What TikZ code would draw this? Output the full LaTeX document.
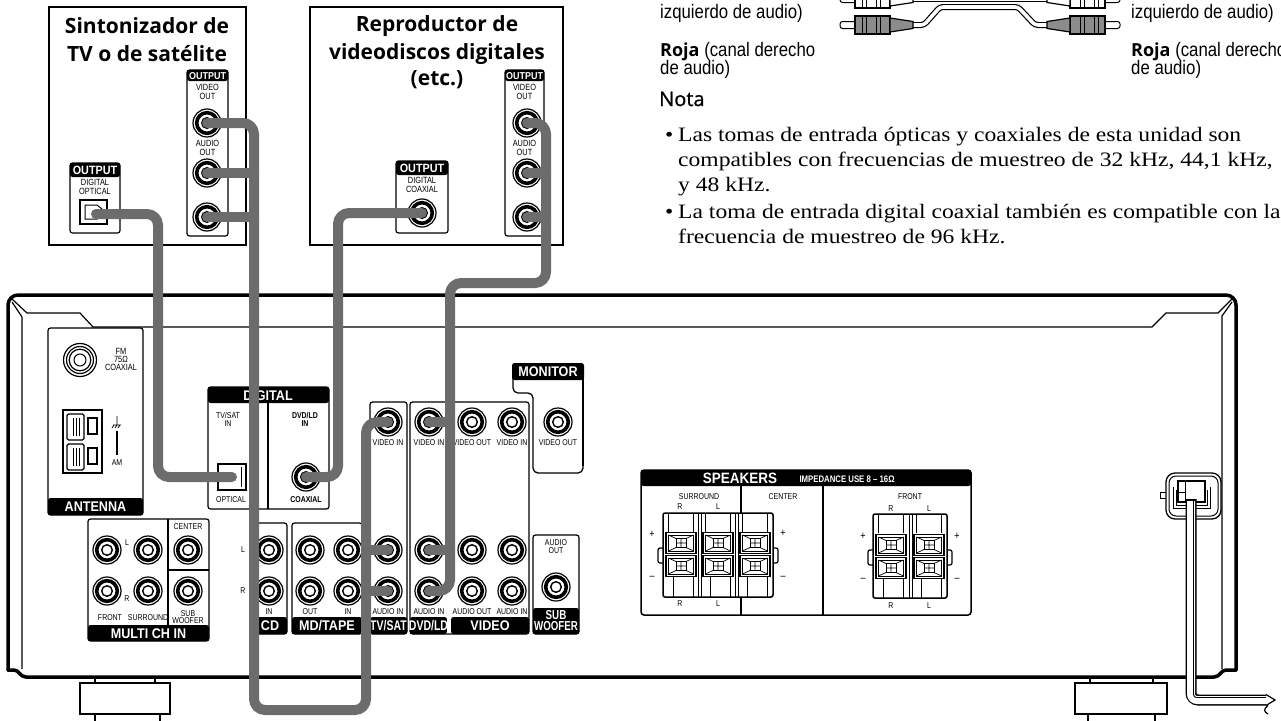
\documentclass[tikz,border=0pt]{standalone}
\usepackage{fontspec}
\setmainfont{Liberation Serif}
\newfontfamily\cf{Liberation Sans}[FakeStretch=0.82]
\newfontfamily\cfb{Liberation Sans}[FakeStretch=0.9]
\newfontfamily\cfn{Liberation Sans}[FakeStretch=0.75]
\newfontfamily\sidef{Liberation Sans}[FakeStretch=0.86]
\newfontfamily\hf{Open Sans}
\newfontfamily\hfm{Open Sans}[FakeBold=0.8]
\newfontfamily\bodyf{Liberation Serif}[FakeStretch=1.15]
\definecolor{cab}{RGB}{108,108,108}
\definecolor{plugg}{RGB}{140,140,140}
\newcommand{\myplugL}[3]{%
  \draw[line width=1pt, fill=white, rounded corners=2.5pt] (#1,#2-3.5) rectangle (#1+18,#2+3.5);
  \draw[line width=1.2pt, fill=#3] (#1+15,#2-9) rectangle (#1+50,#2+9);
  \draw[line width=0.9pt] (#1+22,#2-9) -- (#1+22,#2+9) (#1+26,#2-9) -- (#1+26,#2+9) (#1+36,#2-9) -- (#1+36,#2+9) (#1+40,#2-9) -- (#1+40,#2+9);
  \draw[line width=1.2pt, fill=#3] (#1+50,#2-7) -- (#1+73,#2-3.5) -- (#1+73,#2+3.5) -- (#1+50,#2+7) -- cycle;}
\newcommand{\myplugR}[3]{%
  \draw[line width=1pt, fill=white, rounded corners=2.5pt] (#1-18,#2-3.5) rectangle (#1,#2+3.5);
  \draw[line width=1.2pt, fill=#3] (#1-50,#2-9) rectangle (#1-15,#2+9);
  \draw[line width=0.9pt] (#1-22,#2-9) -- (#1-22,#2+9) (#1-26,#2-9) -- (#1-26,#2+9) (#1-36,#2-9) -- (#1-36,#2+9) (#1-40,#2-9) -- (#1-40,#2+9);
  \draw[line width=1.2pt, fill=#3] (#1-50,#2-7) -- (#1-73,#2-3.5) -- (#1-73,#2+3.5) -- (#1-50,#2+7) -- cycle;}
\tikzset{
  cable/.style={draw=cab, line width=10pt, line cap=round, line join=round, rounded corners=11pt},
  branch/.style={draw=cab, line width=10pt, line cap=round},
  panel/.style={draw=black, line width=1.2pt, rounded corners=2.5pt, fill=white},
  bandf/.style={fill=black, rounded corners=2.5pt},
  tiny/.style={font=\cf\fontsize{8.5}{8}\selectfont, inner sep=0pt, align=center},
  tinyb/.style={font=\cf\bfseries\fontsize{8.5}{8}\selectfont, inner sep=0pt, align=center},
  devlab/.style={font=\cf\fontsize{9}{8.5}\selectfont, inner sep=0pt, align=center},
  bandtext/.style={font=\cfb\bfseries\fontsize{14}{14}\selectfont, text=white, inner sep=0pt},
  bandnar/.style={font=\cfn\bfseries\fontsize{14}{14}\selectfont, text=white, inner sep=0pt},
  title/.style={font=\hf\bfseries\fontsize{21}{21}\selectfont, inner sep=0pt},
  side/.style={font=\sidef\fontsize{19.5}{19.5}\selectfont, inner sep=0pt, anchor=base west},
  body/.style={font=\bodyf\fontsize{20.5}{20.5}\selectfont, inner sep=0pt, anchor=base west},
  pm/.style={font=\cf\fontsize{11}{11}\selectfont, inner sep=0pt},
  pics/rca/.style={code={
    \fill[white] (0,0) circle (14pt);
    \draw[line width=1.2pt] (0,0) circle (14pt);
    \draw[line width=3.6pt] (0,0) circle (10.3pt);
    \draw[line width=1.4pt, fill=white] (0,0) circle (5.3pt);
  }},
  pics/screw/.style={code={
    \draw[line width=1.3pt, fill=white] (-15,-10.5) rectangle (15,10.5);
    \draw[line width=0.7pt] (-12.5,-8) rectangle (12.5,8);
    \draw[line width=0.7pt] (-5,-4.5) rectangle (5,4.5);
    \draw[line width=0.7pt] (-12.5,-8) -- (-5,-4.5) (12.5,-8) -- (5,-4.5) (-12.5,8) -- (-5,4.5) (12.5,8) -- (5,4.5) (0,-4.5) -- (0,4.5) (-5,0) -- (5,0);
  }},
}
\begin{document}
\begin{tikzpicture}[x=1pt,y=-1pt]
\useasboundingbox (0,0) rectangle (1281,720);
\clip (0,0) rectangle (1281,720);
\fill[white] (0,0) rectangle (1281,720);

% ================= top right texts
\node[side] (izq1) at (660,18) {izquierdo de audio)};
\node[side] (roja1) at (660,56) {{\hf\bfseries\fontsize{18}{18}\selectfont Roja} (canal derecho};
\node[side] (deau1) at (660,74.5) {de audio)};
\node[side] (izq2) at (1131,18) {izquierdo de audio)};
\node[side] (roja2) at (1131,56) {{\hf\bfseries\fontsize{18}{18}\selectfont Roja} (canal derecho};
\node[side] (deau2) at (1131,74.5) {de audio)};
\node[anchor=base west, inner sep=0pt, font=\hfm\fontsize{20}{20}\selectfont] (nota) at (659,106) {Nota};
\node[body] (bul1) at (665,141) {•};
\node[body] (l1) at (678,141) {Las tomas de entrada ópticas y coaxiales de esta unidad son};
\node[body] (l2) at (678,166.5) {compatibles con frecuencias de muestreo de 32 kHz, 44,1 kHz,};
\node[body] (l3) at (678,191) {y 48 kHz.};
\node[body] (bul2) at (665,218) {•};
\node[body] (l4) at (678,218) {La toma de entrada digital coaxial también es compatible con la};
\node[body] (l5) at (678,243) {frecuencia de muestreo de 96 kHz.};

% ================= plug cable drawing
\draw[line width=6pt] (913,-1) -- (1047,-1);
\draw[line width=3.6pt, white] (912,-1) -- (1048,-1);
\draw[line width=6pt, rounded corners=3pt] (913,25) -- (924,25) -- (940,7) -- (1018,7) -- (1035,25) -- (1047,25);
\draw[line width=3.6pt, white, rounded corners=3pt] (912,25) -- (924,25) -- (940,7) -- (1018,7) -- (1035,25) -- (1048,25);
\myplugL{840}{-1}{white}
\myplugR{1120}{-1}{white}
\myplugL{840}{25}{plugg}
\myplugR{1120}{25}{plugg}

% ================= device 1
\draw[line width=1.2pt] (49,7) rectangle (246,245);
\node[title] (t1a) at (147,26) {Sintonizador de};
\node[title] (t1b) at (147,54) {TV o de satélite};
\draw[panel] (187,70) rectangle (228,236);
\fill[bandf] (187,70) rectangle (228,81);
\node[font=\cfb\bfseries\fontsize{10}{10}\selectfont, text=white, inner sep=0pt] (o1) at (207.5,75.8) {OUTPUT};
\node[devlab] (v1lab) at (207.5,92) {VIDEO\\OUT};
\node[devlab] (a1lab) at (207.5,148) {AUDIO\\OUT};
\coordinate (d1v) at (207,123);
\coordinate (d1a1) at (207,173);
\coordinate (d1a2) at (207,217);
\foreach \p in {d1v,d1a1,d1a2} \pic at (\p) {rca};
\draw[panel] (70,163) rectangle (120,233);
\fill[bandf] (70,163) rectangle (120,177);
\node[font=\cfb\bfseries\fontsize{12}{12}\selectfont, text=white, inner sep=0pt] (o2) at (95,170.5) {OUTPUT};
\node[devlab] (optlab) at (95,187) {DIGITAL\\OPTICAL};
\draw[line width=1.3pt] (80,200) rectangle (107,224);
\draw[line width=1pt] (85,205) -- (97,205) -- (102,209) -- (102,215) -- (97,219) -- (85,219) -- cycle;
\coordinate (opt) at (96,214);

% ================= device 2
\draw[line width=1.2pt] (310,7) rectangle (563,245);
\node[title] (t2a) at (437,26) {Reproductor de};
\node[title] (t2b) at (437,54) {videodiscos digitales};
\node[title] (t2c) at (437,80) {(etc.)};
\draw[panel] (505,70) rectangle (544,236);
\fill[bandf] (505,70) rectangle (544,81);
\node[font=\cfb\bfseries\fontsize{10}{10}\selectfont, text=white, inner sep=0pt] (o3) at (524.5,75.8) {OUTPUT};
\node[devlab] (v2lab) at (524.5,92) {VIDEO\\OUT};
\node[devlab] (a2lab) at (524.5,148) {AUDIO\\OUT};
\coordinate (d2v) at (527,123);
\coordinate (d2a1) at (527,173);
\coordinate (d2a2) at (527,217);
\foreach \p in {d2v,d2a1,d2a2} \pic at (\p) {rca};
\draw[panel] (396,161) rectangle (448,233);
\fill[bandf] (396,161) rectangle (448,175);
\node[font=\cfb\bfseries\fontsize{12}{12}\selectfont, text=white, inner sep=0pt] (o4) at (422,168.5) {OUTPUT};
\node[devlab] (coaxlab) at (422,185) {DIGITAL\\COAXIAL};
\coordinate (coax) at (422,213);
\pic at (coax) {rca};

% ================= receiver chassis
\draw[line width=3.5pt, rounded corners=10pt, line cap=round] (1236,670) -- (1236,295) -- (8,295) -- (8,670);
\draw[line width=3.5pt, line cap=round] (8,670) -- (14,670) .. controls (19,670) and (20,677) .. (26,677) -- (1214,677) .. controls (1220,677) and (1221,670) .. (1226,670) -- (1236,670);
\draw[line width=1.2pt] (12,299) -- (27,313) -- (80,313) -- (93,327) -- (1152,327) -- (1166,313) -- (1218,313) -- (1232,299);
\draw[line width=1.2pt] (12,302) -- (22,317) -- (22,669);
\draw[line width=1.2pt] (1232,302) -- (1222,316) -- (1222,669);
% feet
\draw[line width=1.2pt] (95,678) rectangle (155,683);
\draw[line width=2pt, fill=white] (80,683) rectangle (170,714);
\draw[line width=2pt, fill=white] (95,714) rectangle (160,722);
\draw[line width=1.2pt] (1090,678) rectangle (1153,683);
\draw[line width=2pt, fill=white] (1075,683) rectangle (1167,714);
\draw[line width=2pt, fill=white] (1088,714) rectangle (1155,722);

% ---- ANTENNA
\draw[panel] (48,328) rectangle (143,515);
\fill[bandf] (48,498) rectangle (143,515);
\node[bandtext] (ant) at (95.5,507) {ANTENNA};
\coordinate (fm) at (80,360);
\draw[line width=1.2pt] (fm) circle (16.5pt);
\draw[line width=1.2pt] (fm) circle (13.5pt);
\draw[line width=1.2pt] (fm) circle (10.8pt);
\draw[line width=1pt] (fm) circle (6pt);
\node[tiny, font=\cf\fontsize{9}{8}\selectfont] (fmlab) at (121,359) {FM\\75Ω\\COAXIAL};
\draw[line width=1.8pt] (63,410) rectangle (102,473);
\draw[line width=1.2pt, rounded corners=1.5pt] (67,414) rectangle (84,440);
\draw[line width=1.2pt, rounded corners=1.5pt] (67,444) rectangle (84,470);
\draw[line width=0.8pt] (73,418) -- (73,436) (76,418) -- (76,436) (79,418) -- (79,436);
\draw[line width=0.8pt] (73,448) -- (73,466) (76,448) -- (76,466) (79,448) -- (79,466);
\draw[line width=1.2pt] (88,418) rectangle (97,434);
\draw[line width=1.2pt] (88,448) rectangle (97,464);
\draw[line width=0.8pt] (117,416) -- (117,425) (113,425) -- (121,425) (114,425) -- (112,428) (117,425) -- (115,428) (120,425) -- (118,428);
\draw[line width=1.2pt] (117,431) -- (117,455);
\node[tiny] (amlab) at (117,463) {AM};

% ---- DIGITAL
\draw[panel] (208,387) rectangle (329,509);
\fill[bandf] (208,387) rectangle (329,403);
\node[bandtext] (dig) at (268,395.5) {DIGITAL};
\draw[line width=1.2pt] (268,403) -- (268,509);
\node[tiny] (tvsatin) at (228,419) {TV/SAT\\IN};
\node[tinyb] (dvdin) at (305,419) {DVD/LD\\IN};
\draw[line width=2.8pt] (218,464) rectangle (246,490);
\draw[line width=1pt] (241,467) -- (241,487);
\coordinate (ropt) at (232,477);
\node[tiny] (optl) at (231,500) {OPTICAL};
\coordinate (rcoax) at (306,477);
\pic at (rcoax) {rca};
\node[tinyb] (coaxl) at (306,500) {COAXIAL};

% ---- MULTI CH IN
\draw[panel] (88,519) rectangle (209,641);
\fill[bandf] (88,625) rectangle (209,641);
\node[bandtext] (mch) at (148.5,633.5) {MULTI CH IN};
\draw[line width=1.2pt] (168,519) -- (168,625);
\draw[line width=1.2pt] (168,570) -- (209,570);
\foreach \x/\y in {107/550,148/550,188/550,107/591,148/591,188/591} \pic at (\x,\y) {rca};
\node[tiny] (mL) at (127,543) {L};
\node[tiny] (mR) at (127,599) {R};
\node[tiny] (mC) at (188,527) {CENTER};
\node[tiny] (mF) at (110,618) {FRONT};
\node[tiny] (mS) at (148,618) {SURROUND};
\node[tiny, font=\cf\fontsize{8.5}{7}\selectfont] (mW) at (188,617) {SUB\\WOOFER};

% ---- CD
\draw[panel] (250,523) rectangle (287,634);
\fill[bandf] (250,617) rectangle (287,634);
\node[bandtext] (cdl) at (270,626) {CD};
\pic at (269,550) {rca};
\pic at (269,591) {rca};
\node[tiny] (cdin) at (269,612) {IN};
\node[tiny] (cdL) at (243,550) {L};
\node[tiny] (cdR) at (243,591) {R};

% ---- MD/TAPE
\draw[panel] (292,523) rectangle (362,634);
\fill[bandf] (292,617) rectangle (362,634);
\node[bandtext] (mdl) at (327,626) {MD/TAPE};
\foreach \x/\y in {310/550,348/550,310/591,348/591} \pic at (\x,\y) {rca};
\node[tiny] (mdo) at (310,612) {OUT};
\node[tiny] (mdi) at (348,612) {IN};

% ---- TV/SAT
\draw[panel] (370,402) rectangle (407,634);
\fill[bandf] (370,617) rectangle (407,634);
\node[bandnar] (tvl) at (388.5,626) {TV/SAT};
\coordinate (rtvV) at (388,422);
\coordinate (rtvL) at (388,550);
\coordinate (rtvR) at (388,591);
\foreach \p in {rtvV,rtvL,rtvR} \pic at (\p) {rca};
\node[tiny] (tvvi) at (388,443) {VIDEO IN};
\node[tiny] (tvai) at (388,612) {AUDIO IN};

% ---- DVD/LD + VIDEO
\draw[panel] (410,402) rectangle (529,634);
\fill[bandf] (410,617) rectangle (447,634);
\fill[white] (447,616) rectangle (451,633);
\fill[bandf] (451,617) rectangle (529,634);
\node[bandnar] (dvdl) at (428.5,626) {DVD/LD};
\node[bandtext] (vidl) at (490,626) {VIDEO};
\coordinate (rdvdV) at (429,422);
\coordinate (rdvdL) at (429,550);
\coordinate (rdvdR) at (429,591);
\foreach \p in {rdvdV,rdvdL,rdvdR} \pic at (\p) {rca};
\foreach \x/\y in {472/422,512/422,472/550,512/550,472/591,512/591} \pic at (\x,\y) {rca};
\node[tiny] (dvi) at (429,443) {VIDEO IN};
\node[tiny] (vvo) at (472,443) {VIDEO OUT};
\node[tiny] (vvi) at (512,443) {VIDEO IN};
\node[tiny] (dai) at (429,612) {AUDIO IN};
\node[tiny] (vao) at (472,612) {AUDIO OUT};
\node[tiny] (vai) at (512,612) {AUDIO IN};

% ---- MONITOR
\draw[line width=1.3pt, rounded corners=5pt] (513,372) -- (513,393) -- (533,393) -- (533,473) -- (583,473) -- (583,372);
\draw[line width=2.2pt] (583,378) -- (583,466);
\fill[bandf] (512,363) rectangle (584,380);
\node[bandtext] (mon) at (548,372) {MONITOR};
\pic at (558,422) {rca};
\node[tiny] (mvo) at (558,443) {VIDEO OUT};

% ---- SUB WOOFER
\draw[panel] (533,535) rectangle (579,634);
\fill[bandf] (533,608) rectangle (579,634);
\node[bandnar, align=center, font=\cfn\bfseries\fontsize{13}{11}\selectfont] (subw) at (556,621) {SUB\\WOOFER};
\node[tiny] (sao) at (556,547) {AUDIO\\OUT};
\pic at (556,587) {rca};

% ---- SPEAKERS
\draw[line width=1.5pt, rounded corners=3pt, fill=white] (641,470) rectangle (971,615);
\fill[bandf] (641,470) rectangle (971,486);
\node[bandtext, font=\cfb\bfseries\fontsize{15}{15}\selectfont] (spk) at (740,478.5) {SPEAKERS};
\node[font=\cf\bfseries\fontsize{9.5}{9.5}\selectfont, text=white, inner sep=0pt] (imp) at (847,479) {IMPEDANCE USE 8 – 16Ω};
\draw[line width=1.3pt] (741,486) -- (741,615);
\draw[line width=1.3pt] (823,486) -- (823,615);
\node[tiny] (ssur) at (699,497) {SURROUND};
\node[tiny] (scen) at (783,497) {CENTER};
\node[tiny] (sfro) at (910,497) {FRONT};
\node[tiny] (sR1) at (680,507) {R};
\node[tiny] (sL1) at (718,507) {L};
\node[tiny] (sR2) at (680,604) {R};
\node[tiny] (sL2) at (718,604) {L};
\node[tiny] (fR1) at (891,509) {R};
\node[tiny] (fL1) at (929,509) {L};
\node[tiny] (fR2) at (891,606) {R};
\node[tiny] (fL2) at (929,606) {L};
\node[pm] (p1) at (652,534) {+};
\node[pm] (m1) at (652,578) {–};
\node[pm] (p2) at (783,533) {+};
\node[pm] (m2) at (783,578) {–};
\node[pm] (p3) at (863,536) {+};
\node[pm] (m3) at (863,580) {–};
\node[pm] (p4) at (957,536) {+};
\node[pm] (m4) at (957,580) {–};
% surround/center block
\draw[line width=1.2pt, rounded corners=2pt, fill=white] (658,548) rectangle (667,563);
\draw[line width=1.2pt, rounded corners=2pt, fill=white] (769,548) rectangle (778,563);
\draw[line width=1.5pt, rounded corners=2pt, fill=white] (663,513) rectangle (773,597);
\draw[line width=1pt] (698,513) -- (698,597) (701,513) -- (701,597) (735,513) -- (735,597) (738,513) -- (738,597);
\foreach \c in {681,718,755} {
  \draw[line width=0.9pt] (\c-13,513) -- (\c-13,532) (\c+12,513) -- (\c+12,532);
  \draw[line width=0.9pt] (\c-8,577) -- (\c-8,597) (\c+12,577) -- (\c+12,597);
  \pic at (\c,543) {screw};
  \pic at (\c,566) {screw};
}
% front block
\draw[line width=1.2pt, rounded corners=2pt, fill=white] (868,550) rectangle (877,565);
\draw[line width=1.2pt, rounded corners=2pt, fill=white] (943,550) rectangle (952,565);
\draw[line width=1.5pt, rounded corners=2pt, fill=white] (873,514) rectangle (947,598);
\draw[line width=1pt] (909,514) -- (909,598) (912,514) -- (912,598);
\foreach \c in {891,929} {
  \draw[line width=0.9pt] (\c-13,514) -- (\c-13,533) (\c+12,514) -- (\c+12,533);
  \draw[line width=0.9pt] (\c-8,578) -- (\c-8,598) (\c+12,578) -- (\c+12,598);
  \pic at (\c,545) {screw};
  \pic at (\c,568) {screw};
}

% ---- power cord
\draw[line width=1pt, fill=white] (1160,492) rectangle (1167,498);
\draw[line width=1.3pt, rounded corners=9pt, fill=white] (1166,473) rectangle (1221,519);
\draw[line width=1pt, rounded corners=7pt] (1169,476) rectangle (1218,516);
\draw[line width=1pt] (1173,487) -- (1173,508) -- (1210,508) -- (1210,487);
\draw[line width=1pt] (1176,490) -- (1176,505) -- (1207,505) -- (1207,490);
\draw[line width=1.2pt, fill=white] (1178,481) rectangle (1205,502);
\draw[line width=1pt] (1185,481) -- (1185,502) (1178,492) -- (1185,492);
\coordinate (cordA) at (1191,499);
\coordinate (cordB) at (1191,700);
\coordinate (cordC) at (1266,700);
\draw[line width=11pt, rounded corners=7pt] (cordA) -- (cordB) -- (cordC);
\draw[line width=8pt, white, rounded corners=6pt] ([yshift=-2pt]cordA) -- (cordB) -- ([xshift=1pt]cordC);
\draw[line width=0.9pt, rounded corners=3pt] (1193.5,501) -- (1193.5,697.5) -- (1266,697.5);
\draw[line width=1.2pt] (1266,694.5) -- (1275,700) -- (1266,705.5);
\draw[line width=1.2pt] (1268,705.5) .. controls (1263,709) and (1264,712) .. (1268,714);

% ================= cables
\draw[cable] (opt) -- (158,214) -- (158,477) -- (ropt);
\draw[cable] (coax) -- (338,213) -- (338,477) -- (rcoax);
\draw[cable] (d1v) -- (254,123) -- (254,710) -- (366,710) -- (366,422) -- (rtvV);
\draw[branch] (d1a1) -- (254,173);
\draw[branch] (d1a2) -- (254,217);
\draw[branch] (366,550) -- (rtvL);
\draw[branch] (366,591) -- (rtvR);
\draw[cable] (d2v) -- (546,123) -- (546,283) -- (450,283) -- (450,591) -- (rdvdR);
\draw[branch] (d2a1) -- (546,173);
\draw[branch] (d2a2) -- (546,217);
\draw[branch] (450,422) -- (rdvdV);
\draw[branch] (450,550) -- (rdvdL);
\end{tikzpicture}
\end{document}
